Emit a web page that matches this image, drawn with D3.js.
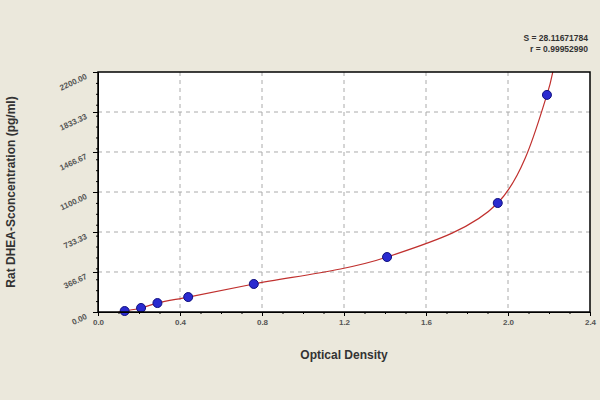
<!DOCTYPE html><html><head><script src="https://cdn.jsdelivr.net/npm/d3@7"></script>
<style>body{margin:0;background:#ebe8dc}</style></head><body><script>
const xTicks=[0.0,0.4,0.8,1.2,1.6,2.0,2.4];
const xTickLabels=["0.0","0.4","0.8","1.2","1.6","2.0","2.4"];
const yTicks=[0,366.67,733.33,1100,1466.67,1833.33,2200];
const yTickLabels=["0.00","366.67","733.33","1100.00","1466.67","1833.33","2200.00"];
const od=[0.13,0.21,0.29,0.44,0.76,1.41,1.95,2.19];
const conc=[9,37,82,137,257,504,999,1990];
const curveOd=[0.10,0.13,0.21,0.29,0.44,0.76,1.41,1.95,2.19,2.24];
const curveConc=[0,9,37,82,137,257,504,999,1990,2450];
const W=600,H=400;
const svg=d3.select("body").append("svg").attr("width",W).attr("height",H).style("font-family","Liberation Sans, Arial");
const x=d3.scaleLinear().domain([0,2.4]).range([98,590]);
const y=d3.scaleLinear().domain([0,2200]).range([312,72]);
svg.append("rect").attr("x",98).attr("y",72).attr("width",492).attr("height",240).attr("fill","#fff");
const g=svg.append("g");
g.selectAll(".gx").data(xTicks.slice(1,-1)).enter().append("line").attr("x1",d=>x(d)).attr("x2",d=>x(d)).attr("y1",72).attr("y2",312).attr("stroke","#aaa").attr("stroke-dasharray","4,4");
g.selectAll(".gy").data(yTicks.slice(1,-1)).enter().append("line").attr("x1",98).attr("x2",590).attr("y1",d=>y(d)).attr("y2",d=>y(d)).attr("stroke","#aaa").attr("stroke-dasharray","4,4");
svg.append("defs").append("clipPath").attr("id","c").append("rect").attr("x",98).attr("y",72).attr("width",492).attr("height",240);
const pts=curveOd.map((d,i)=>[d,curveConc[i]]);
svg.append("path").attr("clip-path","url(#c)").attr("d",d3.line().x(d=>x(d[0])).y(d=>y(d[1])).curve(d3.curveCatmullRom.alpha(0.5))(pts)).attr("fill","none").attr("stroke","#c0302e").attr("stroke-width",1.2);
svg.selectAll(".pt").data(od).enter().append("circle").attr("cx",d=>x(d)).attr("cy",(d,i)=>y(conc[i])).attr("r",4.5).attr("fill","#2a2ad0").attr("stroke","#101080");
const xa=svg.append("g").attr("transform","translate(0,312)").call(d3.axisBottom(x).tickValues(xTicks).tickFormat((d,i)=>xTickLabels[i]).tickSize(4).tickSizeOuter(0));
xa.selectAll("text").attr("font-size",8).attr("font-weight","bold").attr("fill","#555");
svg.append("g").attr("transform","translate(0,312)").call(d3.axisBottom(x).ticks(24).tickFormat("").tickSize(2).tickSizeOuter(0));
const ya=svg.append("g").attr("transform","translate(98,0)").call(d3.axisLeft(y).tickValues(yTicks).tickFormat((d,i)=>yTickLabels[i]).tickSize(5).tickSizeOuter(0));
ya.selectAll(".tick text").attr("font-size",8).attr("font-weight","bold").attr("fill","#555").attr("transform","rotate(-25)").attr("dx",-4).attr("dy",1);
svg.append("g").attr("transform","translate(98,0)").call(d3.axisLeft(y).ticks(30).tickFormat("").tickSize(2).tickSizeOuter(0));
svg.append("rect").attr("x",98).attr("y",72).attr("width",492).attr("height",240).attr("fill","none").attr("stroke","#000").attr("stroke-width",1.5);
svg.append("text").attr("x",344).attr("y",359).attr("text-anchor","middle").attr("font-size",12).attr("font-weight","bold").attr("fill","#333").text("Optical Density");
svg.append("text").attr("transform","translate(15,192) rotate(-90)").attr("text-anchor","middle").attr("font-size",12).attr("font-weight","bold").attr("fill","#333").text("Rat DHEA-Sconcentration (pg/ml)");
svg.append("text").attr("x",588).attr("y",41).attr("text-anchor","end").attr("font-size",8.5).attr("font-weight","bold").attr("fill","#333").text("S = 28.11671784");
svg.append("text").attr("x",588).attr("y",52).attr("text-anchor","end").attr("font-size",8.5).attr("font-weight","bold").attr("fill","#333").text("r = 0.99952990");
</script></body></html>
